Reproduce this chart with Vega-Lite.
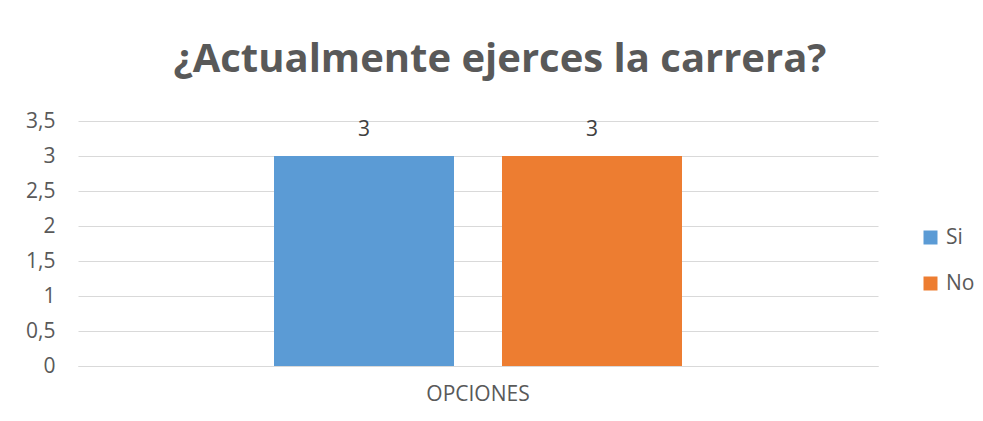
{
  "$schema": "https://vega.github.io/schema/vega-lite/v6.json",
  "width": 800,
  "height": 245,
  "autosize": "none",
  "padding": {"left": 78, "top": 121, "right": 105, "bottom": 55},
  "background": "white",
  "title": {
    "text": "¿Actualmente ejerces la carrera?",
    "font": "Open Sans",
    "fontSize": 40,
    "fontWeight": "bold",
    "color": "#595959",
    "anchor": "middle",
    "dx": 22,
    "offset": 30
  },
  "data": {
    "values": [
      {"cat": "OPCIONES", "serie": "Si", "valor": 3},
      {"cat": "OPCIONES", "serie": "No", "valor": 3}
    ]
  },
  "encoding": {
    "x": {
      "field": "cat",
      "type": "nominal",
      "scale": {"paddingInner": 0, "paddingOuter": 0.4804},
      "axis": {
        "title": null,
        "labelAngle": 0,
        "ticks": false,
        "domainColor": "#D9D9D9",
        "labelFont": "Open Sans",
        "labelFontSize": 21,
        "labelColor": "#595959",
        "labelPadding": 17
      }
    },
    "xOffset": {
      "field": "serie",
      "type": "nominal",
      "sort": ["Si", "No"],
      "scale": {"paddingInner": 0.2105, "paddingOuter": 0}
    },
    "y": {
      "field": "valor",
      "type": "quantitative",
      "scale": {"domain": [0, 3.5], "nice": false},
      "axis": {
        "title": null,
        "values": [0, 0.5, 1, 1.5, 2, 2.5, 3, 3.5],
        "labelExpr": "replace(format(datum.value, '.1~f'), '.', ',')",
        "ticks": false,
        "domain": false,
        "gridColor": "#D9D9D9",
        "gridWidth": 1,
        "labelFont": "Open Sans",
        "labelFontSize": 21,
        "labelColor": "#595959",
        "labelPadding": 23
      }
    }
  },
  "layer": [
    {
      "mark": {"type": "bar"},
      "encoding": {
        "color": {
          "field": "serie",
          "type": "nominal",
          "sort": ["Si", "No"],
          "scale": {"domain": ["Si", "No"], "range": ["#5B9BD5", "#ED7D31"]},
          "legend": {
            "title": null,
            "orient": "none",
            "legendX": 842,
            "legendY": 106,
            "padding": 0,
            "symbolType": "square",
            "symbolSize": 196,
            "symbolStrokeWidth": 0,
            "labelFont": "Open Sans",
            "labelFontSize": 21,
            "labelColor": "#595959",
            "labelOffset": 5,
            "rowPadding": 24
          }
        }
      }
    },
    {
      "mark": {
        "type": "text",
        "baseline": "alphabetic",
        "dy": -20,
        "font": "Open Sans",
        "fontSize": 21,
        "color": "#404040"
      },
      "encoding": {
        "text": {"field": "valor", "type": "quantitative"}
      }
    }
  ],
  "config": {"view": {"stroke": null}}
}
